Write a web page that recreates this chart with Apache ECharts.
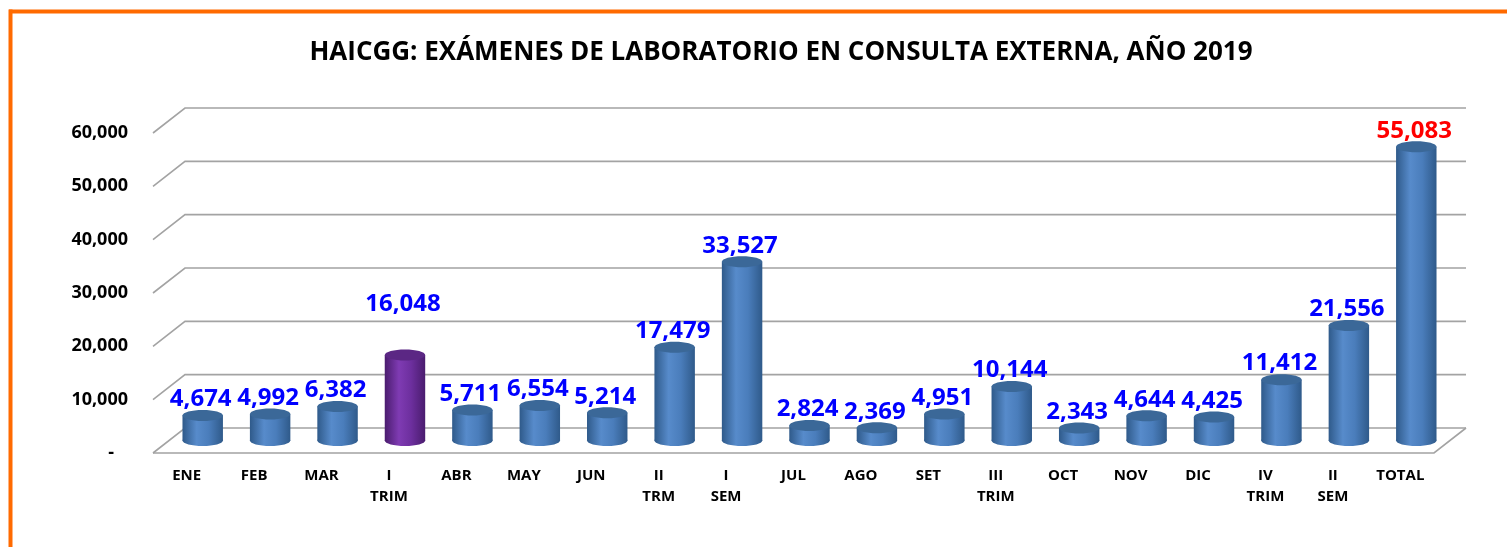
<!DOCTYPE html>
<html>
<head>
    <meta charset="utf-8">
    <title>HAICGG Examenes de laboratorio 2019</title>
    <script src="https://cdn.jsdelivr.net/npm/echarts@6/dist/echarts.min.js"></script>
    <style>
        html, body { margin: 0; padding: 0; background: #fff; }
        #main { width: 1507px; height: 547px; }
    </style>
</head>
<body>
    <div id="main"></div>
<script>
    // datos
    var categorias = ['ENE', 'FEB', 'MAR', 'I\nTRIM', 'ABR', 'MAY', 'JUN', 'II\nTRM', 'I\nSEM',
        'JUL', 'AGO', 'SET', 'III\nTRIM', 'OCT', 'NOV', 'DIC', 'IV\nTRIM', 'II\nSEM', 'TOTAL'];
    var examenes = [4674, 4992, 6382, 16048, 5711, 6554, 5214, 17479, 33527,
        2824, 2369, 4951, 10144, 2343, 4644, 4425, 11412, 21556, 55083];
    var ticksY = [0, 10000, 20000, 30000, 40000, 50000, 60000];
    var titulo = 'HAICGG: EXÁMENES DE LABORATORIO EN CONSULTA EXTERNA, AÑO 2019';

    // profundidad del efecto 3D
    var DX = 32, DY = 25;
    var FONT = '"Open Sans", "Noto Sans", sans-serif';

    function fmt(v) {
        return v.toLocaleString('en-US');
    }

    var myChart = echarts.init(document.getElementById('main'));

    // paredes y piso
    function renderPared(params, api) {
        var cs = params.coordSys;
        var v = api.value(0);
        var y = api.coord([0, v])[1];
        var l = cs.x, r = cs.x + cs.width;
        var hijos = [{
            type: 'polyline',
            shape: { points: [[l, y], [l + DX, y - DY], [r + DX, y - DY]] },
            style: { stroke: '#a3a3a3', lineWidth: 1.6, fill: null }
        }];
        if (v === 0) {
            hijos.push({
                type: 'polyline',
                shape: { points: [[l, y], [r, y], [r + DX, y - DY]] },
                style: { stroke: '#a3a3a3', lineWidth: 1.6, fill: null }
            });
        }
        return { type: 'group', children: hijos };
    }

    // cilindros
    function renderCilindro(params, api) {
        var i = api.value(0);
        var v = api.value(1);
        var base = api.coord([i, 0]);
        var top = api.coord([i, v]);
        var ancho = api.size([1, 0])[0] * 0.6;
        var rx = ancho / 2, ry = 5.5;
        var cx = base[0] + DX / 2;
        var by = base[1] - DY / 2;
        var ty = top[1] - DY / 2;
        var morado = categorias[i] === 'I\nTRIM';
        var cuerpo = morado ? {
            type: 'linear', x: 0, y: 0, x2: 1, y2: 0,
            colorStops: [{ offset: 0, color: '#4a1c6e' }, { offset: 0.35, color: '#7f3bb3' },
                { offset: 0.65, color: '#6d2f9e' }, { offset: 1, color: '#4a1c6e' }]
        } : {
            type: 'linear', x: 0, y: 0, x2: 1, y2: 0,
            colorStops: [{ offset: 0, color: '#2f5a8a' }, { offset: 0.35, color: '#578bcb' },
                { offset: 0.65, color: '#4a7dbb' }, { offset: 1, color: '#2f5a8a' }]
        };
        var tapa = morado ? '#5b2784' : '#3b6898';
        var esTotal = categorias[i] === 'TOTAL';
        // la etiqueta del I TRIM va mas arriba en el original
        var extra = morado ? 35 : 0;
        return {
            type: 'group',
            children: [
                { type: 'ellipse', shape: { cx: cx, cy: by, rx: rx, ry: ry }, style: { fill: cuerpo } },
                { type: 'rect', shape: { x: cx - rx, y: ty, width: ancho, height: by - ty }, style: { fill: cuerpo } },
                { type: 'ellipse', shape: { cx: cx, cy: ty, rx: rx, ry: ry }, style: { fill: tapa } },
                {
                    type: 'text',
                    style: {
                        text: fmt(v), x: cx - 2, y: ty - 4 - extra,
                        align: 'center', verticalAlign: 'bottom',
                        fill: esTotal ? '#ff0000' : '#0000ff',
                        font: 'bold 24px ' + FONT
                    }
                }
            ]
        };
    }

    var option = {
        animation: false,
        graphic: [
            { type: 'line', shape: { x1: 9, y1: 11.5, x2: 1507, y2: 11.5 }, style: { stroke: '#ff6a00', lineWidth: 4 } },
            { type: 'line', shape: { x1: 10.5, y1: 9.5, x2: 10.5, y2: 547 }, style: { stroke: '#ff6a00', lineWidth: 4 } },
            {
                type: 'text', x: 781, y: 53,
                style: {
                    text: titulo, align: 'center', verticalAlign: 'middle',
                    fill: '#000', font: 'bold 26px ' + FONT
                }
            }
        ],
        grid: { left: 153, top: 133, width: 1281, height: 320 },
        xAxis: {
            type: 'category',
            data: categorias,
            axisLine: { show: false },
            axisTick: { show: false },
            axisLabel: {
                interval: 0, margin: 12, color: '#000', fontWeight: 'bold',
                fontSize: 15, lineHeight: 21, fontFamily: FONT
            }
        },
        yAxis: {
            type: 'value',
            min: 0, max: 60000, interval: 10000,
            splitLine: { show: false },
            axisLine: { show: false },
            axisTick: { show: false },
            axisLabel: {
                margin: 25, color: '#000', fontWeight: 'bold', fontSize: 18, fontFamily: FONT,
                formatter: function (v) { return v === 0 ? '-   ' : fmt(v); }
            }
        },
        series: [{
            type: 'custom',
            renderItem: renderPared,
            data: ticksY.map(function (t) { return [t]; }),
            encode: { y: 0 },
            silent: true,
            z: 1
        }, {
            type: 'custom',
            renderItem: renderCilindro,
            data: examenes.map(function (v, i) { return [i, v]; }),
            encode: { x: 0, y: 1 },
            z: 2
        }]
    };
    myChart.setOption(option);
</script>
</body>
</html>
